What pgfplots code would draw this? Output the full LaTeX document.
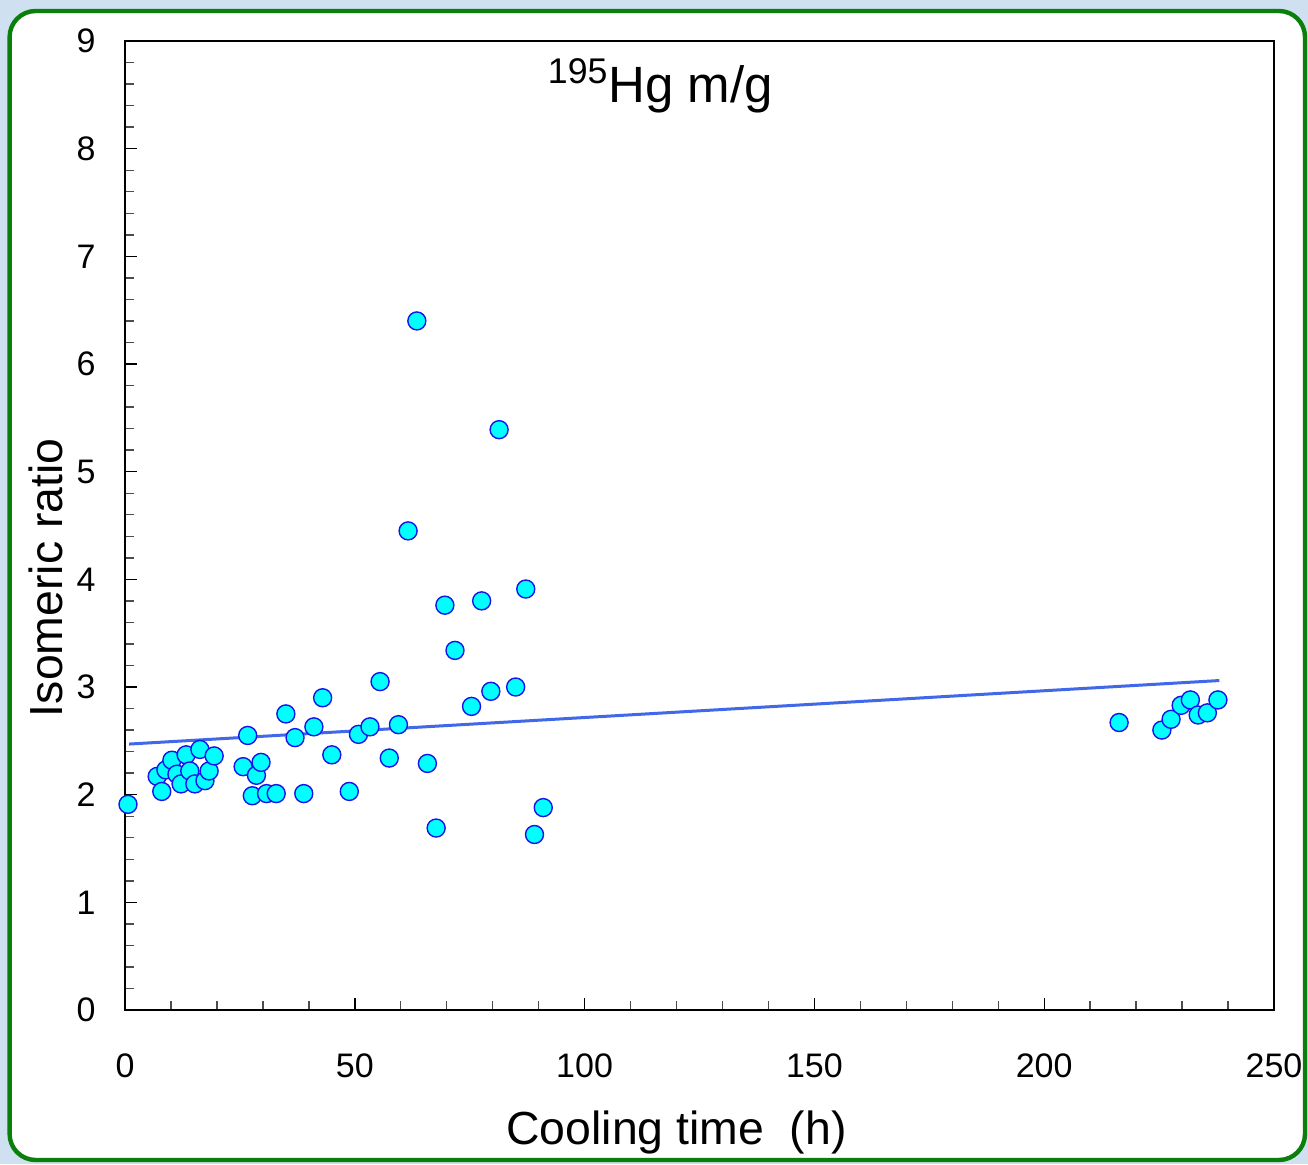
\documentclass[border=0pt]{standalone}
\usepackage{pgfplots}
\pgfplotsset{compat=1.18}
\usepackage{fontspec}
\setmainfont{Liberation Sans}

\definecolor{bgblue}{RGB}{207,224,240}
\definecolor{panelgreen}{RGB}{10,128,10}
\definecolor{fitblue}{RGB}{64,104,232}
\definecolor{markedge}{RGB}{20,20,235}
\definecolor{markfill}{RGB}{0,255,255}

% cooling time (h) vs isomeric ratio
\pgfplotstableread{
t     r
0.65  1.91
7.0   2.17
8.0   2.03
8.9   2.23
10.2  2.32
11.3  2.19
12.2  2.10
13.3  2.37
14.1  2.22
15.2  2.10
16.3  2.42
17.4  2.13
18.3  2.22
19.4  2.36
25.7  2.26
26.7  2.55
27.7  1.99
28.6  2.18
29.6  2.30
30.8  2.01
32.9  2.01
35.0  2.75
37.0  2.53
38.9  2.01
41.1  2.63
43.0  2.90
45.0  2.37
48.8  2.03
50.8  2.56
53.3  2.63
55.5  3.05
57.5  2.34
59.5  2.65
61.6  4.45
63.5  6.40
65.8  2.29
67.7  1.69
69.6  3.76
71.8  3.34
75.4  2.82
77.6  3.80
79.6  2.96
81.4  5.39
85.0  3.00
87.2  3.91
89.1  1.63
91.0  1.88
216.3 2.67
225.6 2.60
227.6 2.70
229.8 2.83
231.8 2.88
233.5 2.74
235.5 2.76
237.8 2.88
}\ratiodata

\begin{document}
\begin{tikzpicture}
\useasboundingbox (0,0) rectangle (654pt,582pt);
% page background and framed panel
\fill[bgblue] (0,0) rectangle (654pt,582pt);
\draw[panelgreen, line width=2.2pt, fill=white, rounded corners=13pt]
  (4.8pt,2pt) rectangle (652.5pt,576.5pt);

\begin{axis}[
  at={(62.5pt,77pt)}, anchor=south west,
  scale only axis, width=574.5pt, height=484.5pt,
  xmin=0, xmax=250, ymin=0, ymax=9,
  xtick={0,50,...,250}, ytick={0,1,...,9},
  minor x tick num=4, minor y tick num=4,
  tick align=inside, tick pos=left,
  major tick length=6pt, minor tick length=4.5pt,
  every tick/.style={line width=0.7pt},
  every major tick/.style={black},
  every minor tick/.style={black!70},
  axis line style={line width=0.6pt, black},
  /pgf/number format/assume math mode=true,
  ticklabel style={font=\fontsize{17}{19}\selectfont},
  xticklabel style={anchor=north, inner sep=0pt, yshift=-21.5pt},
  yticklabel style={anchor=east, inner sep=0pt, xshift=-14.5pt},
  xlabel={Cooling time\ \ (h)},
  xlabel style={font=\fontsize{23.2}{26}\selectfont,
    at={(axis description cs:0.480,-0.139)}, anchor=base},
  ylabel={Isomeric ratio},
  ylabel style={font=\fontsize{23.2}{26}\selectfont,
    at={(axis description cs:-0.054,0.446)}, anchor=base, rotate=0},
  clip=false,
]
% heavier left and bottom spines
\draw[line width=1.1pt, black] (rel axis cs:0,1) -- (rel axis cs:0,0) -- (rel axis cs:1,0);

% linear fit
\addplot[fitblue, line width=1.5pt] coordinates {(0.9,2.47) (238.1,3.06)};

% measurements
\addplot[only marks, mark=*, mark size=4.5pt,
  mark options={fill=markfill, draw=markedge, line width=0.7pt}]
  table[x=t, y=r] {\ratiodata};

\node[font=\fontsize{25.5}{28}\selectfont, anchor=base]
  at (axis description cs:0.466,0.937) {\textsuperscript{195}Hg m/g};
\end{axis}
\end{tikzpicture}
\end{document}
